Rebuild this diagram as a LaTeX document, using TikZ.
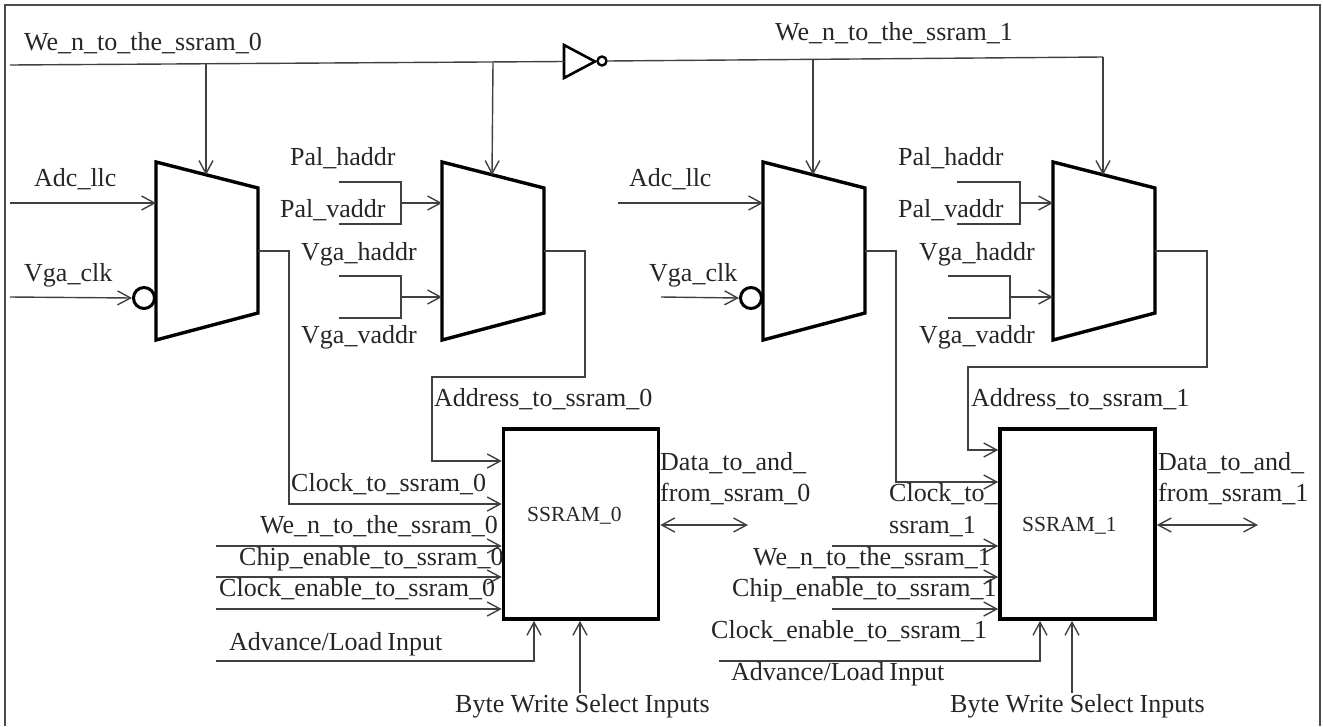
\documentclass[tikz,border=0pt]{standalone}
\usepackage{fontspec}
\setmainfont{Liberation Serif}
\usetikzlibrary{arrows.meta, positioning}

% one multiplexer: left edge at #2, named pins on the sides
\newcommand{\muxblock}[2]{
    \draw[muxbody] (#2,162) -- (#2+102,188) -- (#2+102,313) -- (#2,340) -- cycle;
    \coordinate (#1top1) at (#2+50,175);
    \coordinate (#1in1) at (#2,203);
    \coordinate (#1in2) at (#2,297);
    \coordinate (#1out) at (#2+102,251);
}

\begin{document}
\begin{tikzpicture}[
        x=1pt, y=-1pt,
        sig/.style={draw=black!75, line width=1.4pt},
        sigarrow/.style={sig, -{Straight Barb[length=13pt,width=14pt]}},
        bothways/.style={sig, {Straight Barb[length=13pt,width=14pt]}-{Straight Barb[length=13pt,width=14pt]}},
        muxbody/.style={draw=black, line width=3.4pt, line join=miter, fill=white},
        ramblock/.style={draw=black, line width=3.6pt, fill=white, minimum width=155pt, minimum height=190pt, inner sep=0pt},
        bubble/.style={circle, draw=black, line width=3pt, fill=white, inner sep=0pt, minimum size=21pt},
        sigtext/.style={anchor=west, yshift=-3pt, inner sep=0pt, text height=16pt, text depth=6pt, text=black!85, font=\fontsize{26}{30}\selectfont},
        ramtext/.style={sigtext, font=\fontsize{21.5}{26}\selectfont},
    ]
        \useasboundingbox (0,0) rectangle (1323,726);
        \draw[draw=black!70, line width=1.5pt] (5,726) -- (5,5) -- (1320,5) -- (1320,726);

        \muxblock{muxa}{156}
        \muxblock{muxb}{442}
        \muxblock{muxc}{763}
        \muxblock{muxd}{1053}

        \node[ramblock] (ssramA) at (581,524) {};
        \node[ramblock] (ssramB) at (1077.5,524) {};
        \node[ramtext] (ssramAtext) at (527,513) {SSRAM\_0};
        \node[ramtext] (ssramBtext) at (1022,523) {SSRAM\_1};

        % inverter on the top line
        \draw[muxbody, line width=2.6pt] (564,45) coordinate (invin) -- (564,78) -- (595,61.5) -- cycle;
        \node[bubble, minimum size=9pt, line width=2.4pt] (invbub) at (602,61) {};
        \coordinate (wein) at (10,65);
        \coordinate (invmid) at (564,61.5);
        \coordinate (weturn) at (1103,57);
        \draw[sig] (wein) -- (invmid);
        \draw[sigarrow] (206,64) -- (muxatop1);
        \draw[sigarrow] (493,63) -- (muxbtop1);
        \draw[sig] (invbub.east) -- (weturn);
        \draw[sigarrow] (813,60) -- (muxctop1);
        \draw[sigarrow] (weturn) -- (muxdtop1);

        \node[sigtext] (wetopA) at (24,42) {We\_n\_to\_the\_ssram\_0};
        \node[sigtext] (wetopB) at (775,32) {We\_n\_to\_the\_ssram\_1};

        % first pair of muxes
        \node[sigtext] (adcA) at (34,178) {Adc\_llc};
        \node[sigtext] (vgaA) at (24,273) {Vga\_clk};
        \node[bubble] (clkbubA) at (144,298) {};
        \draw[sigarrow] (10,203) -- (muxain1);
        \draw[sigarrow] (10,297) -- (clkbubA.west);
        \node[sigtext] (palhA) at (290,157) {Pal\_haddr};
        \node[sigtext] (palvA) at (280,209) {Pal\_vaddr};
        \node[sigtext] (vgahA) at (301,252) {Vga\_haddr};
        \node[sigtext] (vgavA) at (301,335) {Vga\_vaddr};
        \draw[sig] (339,182) -- (401,182) -- (401,224) -- (339,224);
        \draw[sig] (339,276) -- (401,276) -- (401,318) -- (339,318);
        \draw[sigarrow] (401,203) -- (muxbin1);
        \draw[sigarrow] (401,297) -- (muxbin2);

        % second pair of muxes
        \node[sigtext] (adcB) at (629,178) {Adc\_llc};
        \node[sigtext] (vgaB) at (649,273) {Vga\_clk};
        \node[bubble] (clkbubB) at (751,298) {};
        \draw[sigarrow] (618,203) -- (muxcin1);
        \draw[sigarrow] (661,297) -- (clkbubB.west);
        \node[sigtext] (palhB) at (898,157) {Pal\_haddr};
        \node[sigtext] (palvB) at (898,209) {Pal\_vaddr};
        \node[sigtext] (vgahB) at (919,252) {Vga\_haddr};
        \node[sigtext] (vgavB) at (919,335) {Vga\_vaddr};
        \draw[sig] (957,182) -- (1020,182) -- (1020,224) -- (957,224);
        \draw[sig] (948,276) -- (1010,276) -- (1010,318) -- (948,318);
        \draw[sigarrow] (1020,203) -- (muxdin1);
        \draw[sigarrow] (1010,297) -- (muxdin2);

        % mux outputs into the memories
        \draw[sigarrow] (muxaout) -- (289,251) -- (289,504) -- (ssramA.west |- 0,504);
        \draw[sigarrow] (muxbout) -- (585,251) -- (585,377) -- (432,377) -- (432,461) -- (ssramA.west |- 0,461);
        \draw[sigarrow] (muxcout) -- (896,251) -- (896,482) -- (ssramB.west |- 0,482);
        \draw[sigarrow] (muxdout) -- (1207,251) -- (1207,367) -- (968,367) -- (968,450) -- (ssramB.west |- 0,450);
        \node[sigtext] (addrA) at (434,398) {Address\_to\_ssram\_0};
        \node[sigtext] (addrB) at (971,398) {Address\_to\_ssram\_1};
        \node[sigtext] (clkA) at (291,483) {Clock\_to\_ssram\_0};
        \node[sigtext] (clkB) at (889,493) {Clock\_to\_};
        \node[sigtext] (clkBb) at (889,525) {ssram\_1};

        % control inputs of SSRAM_0
        \draw[sigarrow] (216,546) -- (ssramA.west |- 0,546);
        \draw[sigarrow] (216,577) -- (ssramA.west |- 0,577);
        \draw[sigarrow] (216,609) -- (ssramA.west |- 0,609);
        \draw[sigarrow] (216,661) -- (534,661) -- (ssramA.south -| 534,0);
        \draw[sigarrow] (580,693) -- (ssramA.south -| 580,0);
        \node[sigtext] (weA) at (260,525) {We\_n\_to\_the\_ssram\_0};
        \node[sigtext] (chipA) at (239,557) {Chip\_enable\_to\_ssram\_0};
        \node[sigtext] (ceA) at (219,588) {Clock\_enable\_to\_ssram\_0};
        \node[sigtext] (advA) at (229,642) {{\spaceskip=.2em Advance/Load Input}};
        \node[sigtext] (byteA) at (455,704) {{\spaceskip=.24em Byte Write Select Inputs}};
        \node[sigtext] (dataA) at (660,462) {Data\_to\_and\_};
        \node[sigtext] (fromA) at (660,493) {from\_ssram\_0};
        \draw[bothways] (ssramA.east |- 0,525) -- (748,525);

        % control inputs of SSRAM_1
        \draw[sigarrow] (832,546) -- (ssramB.west |- 0,546);
        \draw[sigarrow] (832,577) -- (ssramB.west |- 0,577);
        \draw[sigarrow] (832,609) -- (ssramB.west |- 0,609);
        \draw[sigarrow] (719,661) -- (1040,661) -- (ssramB.south -| 1040,0);
        \draw[sigarrow] (1072,693) -- (ssramB.south -| 1072,0);
        \node[sigtext] (weB) at (753,557) {We\_n\_to\_the\_ssram\_1};
        \node[sigtext] (chipB) at (732,588) {Chip\_enable\_to\_ssram\_1};
        \node[sigtext] (ceB) at (711,630) {Clock\_enable\_to\_ssram\_1};
        \node[sigtext] (advB) at (731,672) {{\spaceskip=.2em Advance/Load Input}};
        \node[sigtext] (byteB) at (950,704) {{\spaceskip=.24em Byte Write Select Inputs}};
        \node[sigtext] (dataB) at (1158,462) {Data\_to\_and\_};
        \node[sigtext] (fromB) at (1158,493) {from\_ssram\_1};
        \draw[bothways] (ssramB.east |- 0,525) -- (1258,525);
    \end{tikzpicture}
\end{document}
